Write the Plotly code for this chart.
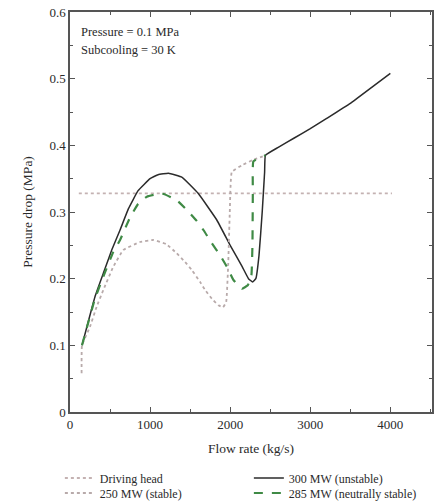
import plotly.graph_objects as go

# Driving head
head_x = [110, 4020]
head_y = [0.328, 0.328]

# 300 MW (unstable)
mw300_x = [150, 312, 416, 521, 625, 730, 850, 1000, 1100, 1230, 1400, 1600, 1833, 2000, 2150, 2229, 2280, 2320, 2360, 2400, 2430, 2440,
           2600, 2800, 3000, 3200, 3500, 3800, 4000]
mw300_y = [0.100, 0.173, 0.208, 0.243, 0.273, 0.305, 0.332, 0.350, 0.356, 0.358, 0.352, 0.328, 0.288, 0.250, 0.218, 0.200, 0.195, 0.200, 0.235, 0.300, 0.360, 0.385,
           0.397, 0.411, 0.425, 0.440, 0.463, 0.490, 0.508]

# 250 MW (stable)
mw250_x = [145, 150, 250, 333, 416, 541, 666, 875, 1040, 1200, 1333, 1437, 1521, 1625, 1687, 1771, 1854, 1910, 1950, 1975, 1995, 2020, 2146, 2283, 2440]
mw250_y = [0.058, 0.100, 0.128, 0.158, 0.183, 0.218, 0.243, 0.255, 0.258, 0.252, 0.238, 0.225, 0.213, 0.195, 0.183, 0.170, 0.160, 0.157, 0.165, 0.220, 0.300, 0.360, 0.370, 0.378, 0.385]

# 285 MW (neutrally stable)
mw285_x = [150, 312, 416, 540, 625, 750, 850, 960, 1100, 1170, 1330, 1460, 1580, 1666, 1771, 1875, 1958, 2041, 2146, 2220, 2265, 2278, 2283, 2290, 2440]
mw285_y = [0.100, 0.170, 0.203, 0.240, 0.258, 0.292, 0.312, 0.323, 0.327, 0.327, 0.318, 0.303, 0.287, 0.273, 0.253, 0.235, 0.218, 0.198, 0.185, 0.190, 0.205, 0.250, 0.330, 0.376, 0.385]

x_ticks = [0, 1000, 2000, 3000, 4000]
y_ticks = [0, 0.1, 0.2, 0.3, 0.4, 0.5, 0.6]
y_tick_labels = ["0", "0.1", "0.2", "0.3", "0.4", "0.5", "0.6"]

FONT = "Liberation Serif"
TXT = "#2a2a2a"
fig = go.Figure()
fig.add_trace(go.Scatter(x=head_x, y=head_y, mode="lines", name="Driving head", legend="legend",
                         line=dict(color="#c4b2b2", width=1.8, dash="dot")))
fig.add_trace(go.Scatter(x=mw300_x, y=mw300_y, mode="lines", name="300 MW (unstable)", legend="legend",
                         line=dict(color="#2b2b2b", width=1.5, shape="spline", smoothing=0.3)))
fig.add_trace(go.Scatter(x=mw250_x, y=mw250_y, mode="lines", name="250 MW (stable)", legend="legend2",
                         line=dict(color="#b8aaaa", width=1.8, dash="dot", shape="spline", smoothing=0.3)))
fig.add_trace(go.Scatter(x=mw285_x, y=mw285_y, mode="lines", name="285 MW (neutrally stable)", legend="legend2",
                         line=dict(color="#3f8a45", width=2.2, dash="dash", shape="spline", smoothing=0.3)))

fig.add_annotation(x=0.025, y=0.95, xref="paper", yref="paper", xanchor="left", yanchor="middle",
                   text="Pressure = 0.1 MPa", showarrow=False, font=dict(family=FONT, size=12.5, color=TXT))
fig.add_annotation(x=0.025, y=0.905, xref="paper", yref="paper", xanchor="left", yanchor="middle",
                   text="Subcooling = 30 K", showarrow=False, font=dict(family=FONT, size=12.5, color=TXT))

axis_common = dict(showline=True, linecolor="#555", linewidth=1.5, mirror="ticks", ticks="inside",
                   ticklen=5, tickcolor="#555", tickwidth=1, showgrid=False, zeroline=False,
                   ticklabeloverflow="allow",
                   tickfont=dict(family=FONT, size=13, color=TXT))
fig.update_xaxes(range=[0, 4520], tickvals=x_ticks, ticktext=[str(v) for v in x_ticks],
                 title=dict(text="Flow rate (kg/s)", font=dict(family=FONT, size=13.5, color=TXT), standoff=12),
                 minor=dict(dtick=500, ticks="inside", ticklen=3, tickcolor="#555"), **axis_common)
fig.update_yaxes(range=[0, 0.6], tickvals=y_ticks, ticktext=y_tick_labels,
                 title=dict(text="Pressure drop (MPa)", font=dict(family=FONT, size=13.5, color=TXT), standoff=14),
                 minor=dict(dtick=0.05, ticks="inside", ticklen=3, tickcolor="#555"), **axis_common)

leg_common = dict(orientation="h", xanchor="left", yanchor="middle",
                  entrywidth=144, entrywidthmode="pixels", itemwidth=30,
                  font=dict(family=FONT, size=12, color=TXT), bgcolor="rgba(0,0,0,0)")
fig.update_layout(
    width=439, height=503,
    margin=dict(l=70, r=7, t=12, b=91, autoexpand=False),
    plot_bgcolor="white", paper_bgcolor="white",
    font=dict(family=FONT, size=12, color=TXT),
    legend=dict(x=-0.028, y=-0.165, **leg_common),
    legend2=dict(x=-0.028, y=-0.2025, **leg_common),
)

fig.write_html("out.html", config={"displayModeBar": False},
               post_script="document.body.style.margin='0';")
